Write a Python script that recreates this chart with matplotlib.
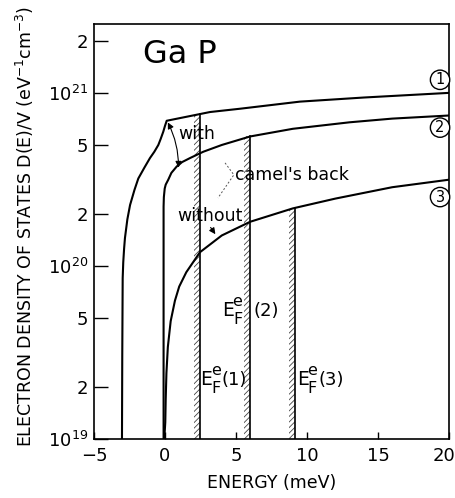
import numpy as np
import matplotlib
matplotlib.use('Agg')
import matplotlib.pyplot as plt
from matplotlib.ticker import FixedLocator, FixedFormatter
from matplotlib.transforms import ScaledTranslation

# energies in meV, densities in eV^-1 cm^-3
e_with = [-3.03, -3.01, -2.98, -2.94, -2.88, -2.82, -2.65, -2.46, -2.15, -1.88, -1.45, -1.06,
          -0.75, -0.47, -0.3, -0.12, 0.0, 0.12, 3.17, 5.3, 9.5, 14.0, 20.0]
d_with = [1.0e19, 3.0e19, 8.5e19, 1.05e20, 1.26e20, 1.45e20, 1.86e20, 2.25e20, 2.75e20, 3.2e20,
          3.7e20, 4.2e20, 4.57e20, 5.0e20, 5.43e20, 5.97e20, 6.45e20, 6.9e20, 7.75e20, 8.1e20,
          8.9e20, 9.4e20, 1.0e21]

e_without = [-0.1, -0.1, -0.08, -0.02, 0.05, 0.23, 0.45, 0.82, 1.2, 1.76, 2.7, 4.0, 6.0, 9.0,
             13.0, 16.0, 20.0]
d_without = [1.0e19, 2.2e20, 2.5e20, 2.8e20, 2.95e20, 3.15e20, 3.45e20, 3.75e20, 3.98e20, 4.2e20,
             4.57e20, 5.0e20, 5.6e20, 6.2e20, 6.76e20, 7.1e20, 7.4e20]

e_para = [-0.05, -0.02, 0.02, 0.05, 0.1, 0.2, 0.4, 0.7, 1.0, 1.5, 2.46, 4.0, 6.0, 9.0, 12.0, 16.0, 20.0]
d_para = [1.0e19, 1.1e19, 1.25e19, 1.7e19, 2.4e19, 3.4e19, 4.8e19, 6.3e19, 7.6e19, 9.2e19,
          1.2e20, 1.5e20, 1.8e20, 2.15e20, 2.45e20, 2.85e20, 3.15e20]

ef_energy = [2.46, 6.0, 9.15]
ef_curve = [(e_with, d_with), (e_without, d_without), (e_para, d_para)]

xticks = [-5, 0, 5, 10, 15, 20]
ymajor = [1e19, 1e20, 1e21]
yminor = [2e19, 5e19, 2e20, 5e20, 2e21]

plt.rcParams['hatch.linewidth'] = 0.6

fig = plt.figure(figsize=(4.56, 4.98), dpi=100)
ax = fig.add_axes([94/456, 1 - 439/498, 355/456, 415/498])

for e, d in ef_curve:
    ax.plot(e, d, color='black', lw=1.5)

# Fermi levels with hatching on the left side
for x, (e, d) in zip(ef_energy, ef_curve):
    top = 10 ** np.interp(x, e[3:], np.log10(d[3:]))
    ax.plot([x, x], [1e19, top], color='black', lw=1.2)
    ax.fill_betweenx([1e19, top], x - 0.45, x, facecolor='none', edgecolor='#444444',
                     hatch='//////', lw=0)

ax.set_yscale('log')
ax.set_xlim(-5, 20)
ax.set_ylim(1e19, 2.5e21)
ax.set_xticks(xticks)
ax.set_xticklabels(['\u22125', '0', '5', '10', '15', '20'])
ax.yaxis.set_major_locator(FixedLocator(ymajor))
ax.yaxis.set_major_formatter(FixedFormatter(['$\\mathregular{10^{19}}$', '$\\mathregular{10^{20}}$',
                                             '$\\mathregular{10^{21}}$']))
ax.yaxis.set_minor_locator(FixedLocator(yminor))
ax.yaxis.set_minor_formatter(FixedFormatter(['2', '5', '2', '5', '2']))
ax.tick_params(axis='y', which='both', direction='in', length=10, width=1, labelsize=13, pad=4)
ax.tick_params(axis='x', direction='in', length=5, width=1, labelsize=13, pad=6)
for s in ax.spines.values():
    s.set_linewidth(1.2)
last = ax.get_xticklabels()[-1]
last.set_transform(last.get_transform() + ScaledTranslation(-5/100, 0, fig.dpi_scale_trans))

ax.set_xlabel('ENERGY (meV)', fontsize=12.5, labelpad=6)
fig.text(25/456, 1 - 226/498, 'ELECTRON DENSITY OF STATES D(E)/V (eV$^{-1}$cm$^{-3}$)',
         rotation=90, ha='center', va='center', fontsize=12.5)

ax.text(-1.55, 1.66e21, 'Ga P', fontsize=23, va='center')
ax.text(0.9, 5.8e20, 'with', fontsize=12.5, va='center')
ax.text(0.85, 1.95e20, 'without', fontsize=12.5, va='center')
ax.text(4.93, 3.36e20, "camel's back", fontsize=12.5, va='center')

ax.annotate('', xy=(0.2, 6.75e20), xytext=(0.95, 3.7e20),
            arrowprops=dict(arrowstyle='<|-|>', color='black', lw=0.8, mutation_scale=9,
                            connectionstyle='arc3,rad=0.12', shrinkA=0, shrinkB=0))
ax.annotate('', xy=(3.66, 1.48e20), xytext=(3.1, 1.72e20),
            arrowprops=dict(arrowstyle='-|>', color='black', lw=0.8, mutation_scale=9))
ax.plot([4.23, 4.85, 3.73], [3.94e20, 3.36e20, 2.47e20], color='#555555', lw=0.7, ls=(0, (2, 2)))


def ef_label(x, y, tag, tag_dx=21):
    ax.annotate('E', (x, y), xytext=(0, 0), textcoords='offset points',
                fontsize=13.5, ha='left', va='center')
    ax.annotate('e', (x, y), xytext=(11, 6.5), textcoords='offset points',
                fontsize=11.5, ha='center', va='center')
    ax.annotate('F', (x, y), xytext=(11, -6.5), textcoords='offset points',
                fontsize=11.5, ha='center', va='center')
    if tag_dx is not None:
        ax.annotate(tag, (x, y), xytext=(tag_dx * 0.72, 0), textcoords='offset points',
                    fontsize=13, ha='left', va='center')


ef_label(2.5, 2.2e19, '(1)')
ef_label(4.03, 5.5e19, None, None)
ax.text(6.2, 5.5e19, '(2)', fontsize=13, va='center')
ef_label(9.3, 2.2e19, '(3)')

for lab, y in zip(['1', '2', '3'], [1.19e21, 6.3e20, 2.5e20]):
    ax.text(19.37, y, lab, fontsize=10.5, ha='center', va='center',
            bbox=dict(boxstyle='circle,pad=0.15', fc='white', ec='black', lw=1))

fig.savefig('out.png', dpi=100)
